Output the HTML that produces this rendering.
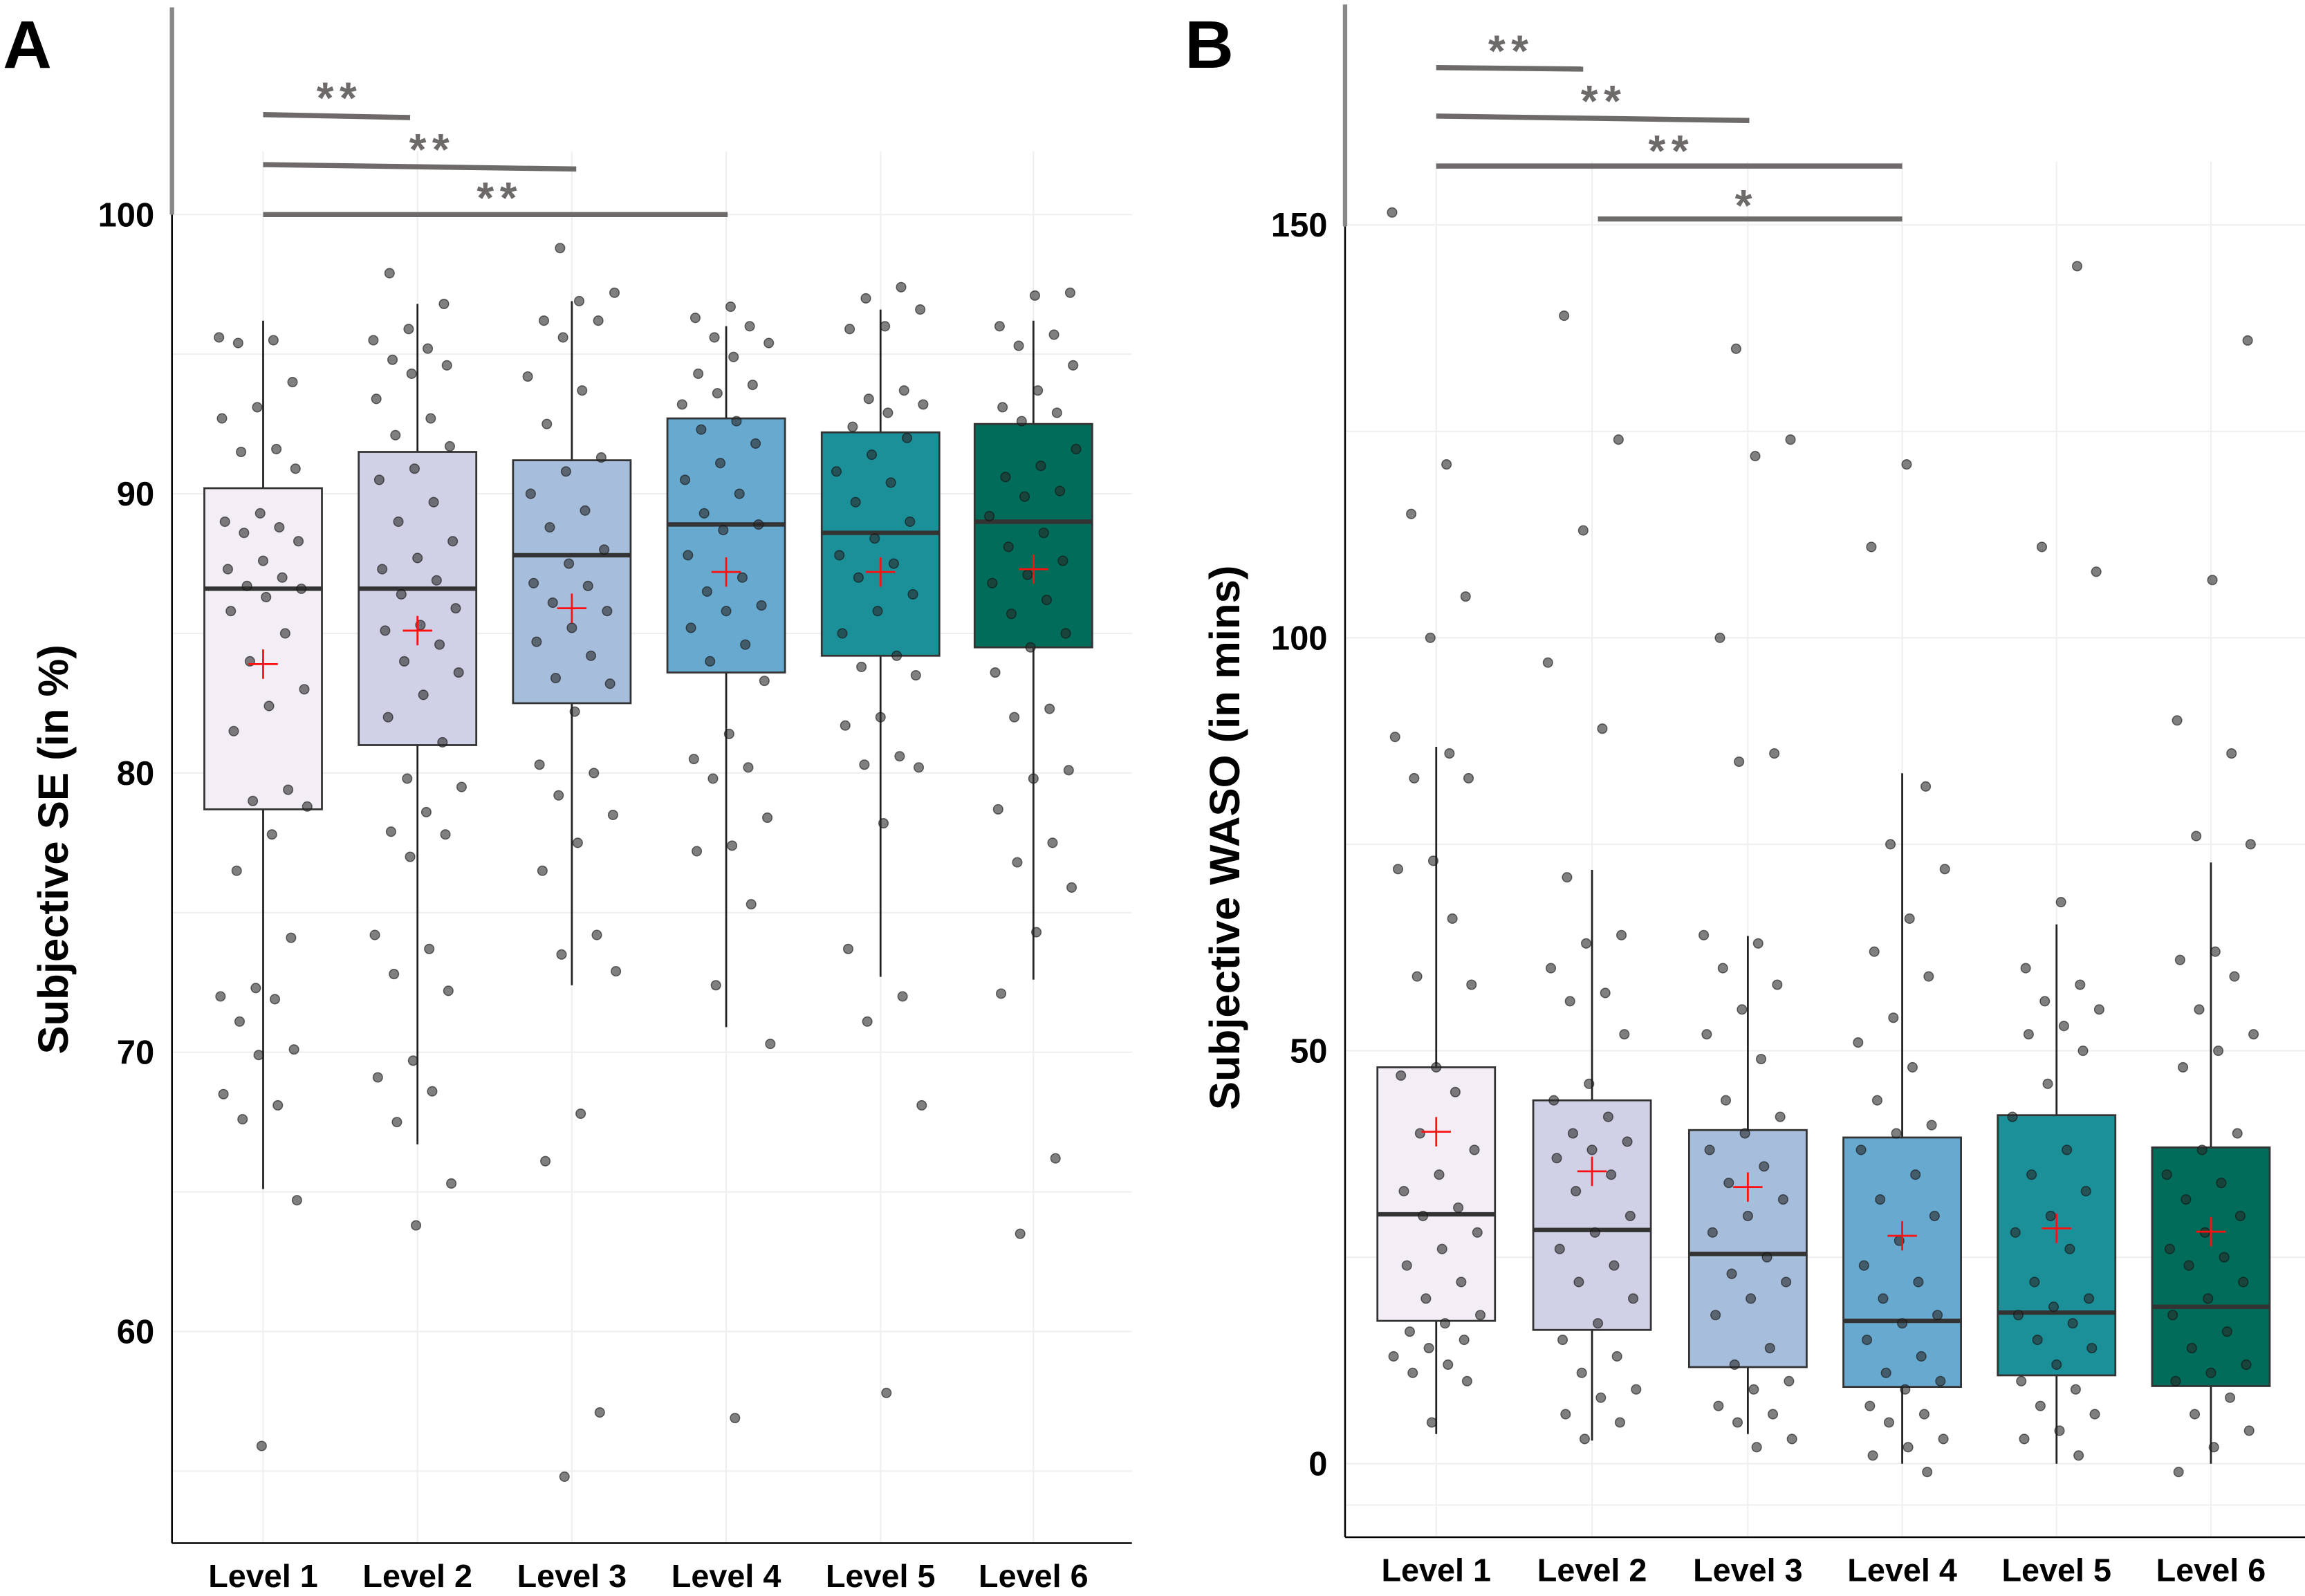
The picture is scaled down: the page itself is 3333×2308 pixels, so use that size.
<!DOCTYPE html>
<html><head><meta charset="utf-8">
<style>
html,body{margin:0;padding:0;background:#fff;}
svg{display:block;}
text{font-family:"Liberation Sans Narrow","Liberation Sans",sans-serif;font-weight:bold;}
</style></head>
<body>
<svg id="fig" xmlns="http://www.w3.org/2000/svg" width="3333" height="2308" viewBox="0 0 1568 1086" preserveAspectRatio="none">
<rect x="0" y="0" width="1568" height="1086" fill="#fff"/>
</svg>
<script>
const categories = ["Level 1","Level 2","Level 3","Level 4","Level 5","Level 6"];
const colors = ["#f3edf6","#d0d1e6","#a6bddb","#67a9cf","#1c9099","#016c59"];
// Panel A: Subjective SE
const seQ1 = [78.7,81.0,82.5,83.6,84.2,84.5];
const seMedian = [86.6,86.6,87.8,88.9,88.6,89.0];
const seQ3 = [90.2,91.5,91.2,92.7,92.2,92.5];
const seWhiskLo = [65.1,66.7,72.4,70.9,72.7,72.6];
const seWhiskHi = [96.2,96.8,96.9,96.0,96.6,96.2];
const seMean = [83.9,85.1,85.9,87.2,87.2,87.3];
const seTicks = [60,70,80,90,100];
const sePoints = [
[95.6,95.5,95.4,94.0,93.1,92.7,91.6,91.5,90.9,89.3,89.0,88.8,88.6,88.3,87.6,87.3,87.0,86.7,86.6,86.3,85.8,85.0,84.0,83.0,82.4,81.5,79.4,79.0,78.8,77.8,76.5,74.1,72.3,72.0,71.9,71.1,70.1,69.9,68.5,68.1,67.6,64.7,55.9],
[97.9,96.8,95.9,95.5,95.2,94.8,94.6,94.3,93.4,92.7,92.1,91.7,90.9,90.5,89.7,89.0,88.3,87.7,87.3,86.9,86.4,85.9,85.3,85.1,84.6,84.0,83.6,82.8,82.0,81.1,79.8,79.5,78.6,77.9,77.8,77.0,74.2,73.7,72.8,72.2,69.7,69.1,68.6,67.5,65.3,63.8],
[98.8,97.2,96.9,96.2,96.2,95.6,94.2,93.7,92.5,91.3,90.8,90.0,89.4,88.8,88.0,87.5,86.8,86.7,86.1,85.8,85.2,84.7,84.2,83.4,83.2,82.2,80.3,80.0,79.2,78.5,77.5,76.5,74.2,73.5,72.9,67.8,66.1,57.1,54.8],
[96.7,96.3,96.0,95.6,95.4,94.9,94.3,93.9,93.6,93.2,92.6,92.3,91.8,91.1,90.5,90.0,89.3,88.9,88.7,87.8,87.0,86.5,86.0,85.8,85.2,84.6,84.0,83.3,81.4,80.5,80.2,79.8,78.4,77.4,77.2,75.3,72.4,70.3,56.9],
[97.4,97.0,96.6,96.0,95.9,93.7,93.4,93.2,92.9,92.4,92.0,91.4,90.8,90.4,89.7,89.0,88.4,87.8,87.5,87.0,86.4,85.8,85.0,84.2,83.8,83.5,82.0,81.7,80.6,80.3,80.2,78.2,73.7,72.0,71.1,68.1,57.8],
[97.2,97.1,96.0,95.7,95.3,94.6,93.7,93.1,92.9,92.6,91.6,91.0,90.6,90.1,89.9,89.2,88.6,88.1,87.6,87.1,86.8,86.2,85.7,85.0,84.5,83.6,82.3,82.0,80.1,79.8,78.7,77.5,76.8,75.9,74.3,72.1,66.2,63.5]
];
// Panel B: Subjective WASO
const wQ1 = [17.3,16.2,11.7,9.3,10.7,9.4];
const wMedian = [30.2,28.3,25.4,17.3,18.3,19.0];
const wQ3 = [48.0,44.0,40.4,39.5,42.2,38.3];
const wWhiskLo = [3.6,2.8,3.6,0,0,0];
const wWhiskHi = [86.8,71.9,63.9,83.6,65.3,72.8];
const wMean = [40.2,35.4,33.5,27.6,28.5,28.1];
const wTicks = [0,50,100,150];
const wPoints = [
[151.5,121,115,105,100,88,86,83,83,73,72,66,59,58,48,47,45,40,38,35,33,31,30,28,26,24,22,20,18,17,16,15,14,13,12,11,10,5],
[139,124,113,97,89,71,64,63,60,57,56,52,46,44,42,40,39,38,37,35,33,30,28,26,24,22,20,17,15,13,11,9,8,6,5,3],
[135,124,122,100,86,85,64,63,60,58,55,52,49,44,42,40,38,36,34,32,30,28,25,23,22,20,18,14,12,10,9,7,6,5,3,2],
[121,111,82,75,72,66,62,59,54,51,48,44,41,40,38,35,32,30,27,24,22,20,18,17,15,13,11,10,9,7,6,5,3,2,1,-1],
[145,111,108,68,60,58,56,55,53,52,50,46,42,38,35,33,30,28,26,22,20,19,18,17,15,14,12,10,9,7,6,4,3,1],
[136,107,90,86,76,75,62,61,59,55,52,50,48,40,38,35,34,32,30,28,26,25,24,22,20,18,16,14,12,11,10,8,6,4,2,-1]
];

const NS="http://www.w3.org/2000/svg";
const svg=document.getElementById('fig');
function mk(tag,attrs,parent){const e=document.createElementNS(NS,tag);for(const k in attrs)e.setAttribute(k,attrs[k]);(parent||svg).appendChild(e);return e;}

function panel(o){
  const g=mk('g',{});
  
  
  const y=v=>o.y0+(o.v0-v)*o.scale;
  const x=i=>o.xs[i];
  o.grid.forEach(v=>{const l=mk('line',{x1:o.axX,x2:o.axR,y1:y(v),y2:y(v),stroke:'#efefef','stroke-width':1},g);
    });
  o.xs.forEach(xx=>{const l=mk('line',{x1:xx,x2:xx,y1:o.gridTop,y2:o.axB,stroke:'#efefef','stroke-width':1},g);
    });
  for(let i=0;i<6;i++){
    const w=mk('line',{x1:x(i),x2:x(i),y1:y(o.hi[i]),y2:y(o.lo[i]),stroke:'#222','stroke-width':1.3},g);
    
    const r=mk('rect',{x:x(i)-40,y:y(o.q3[i]),width:80,height:y(o.q1[i])-y(o.q3[i]),fill:colors[i],stroke:'#333','stroke-width':1.3},g);
    
    const m=mk('line',{x1:x(i)-40,x2:x(i)+40,y1:y(o.med[i]),y2:y(o.med[i]),stroke:'#333','stroke-width':3},g);
    
  }
  for(let i=0;i<6;i++){
    o.pts[i].forEach((v,j)=>{
      const jit=((j*37+i*11)%61)-30;
      const c=mk('circle',{cx:x(i)+jit,cy:y(v),r:3.2,fill:'#2a2a2a','fill-opacity':0.6,stroke:'#111','stroke-opacity':0.6,'stroke-width':0.7},g);
      
    });
  }
  for(let i=0;i<6;i++){
    const mg=mk('g',{stroke:'#ff1010','stroke-width':1.3},g);
    
    mk('line',{x1:x(i)-10,x2:x(i)+10,y1:y(o.mean[i]),y2:y(o.mean[i])},mg);
    mk('line',{x1:x(i),x2:x(i),y1:y(o.mean[i])-10,y2:y(o.mean[i])+10},mg);
  }
  const ya=mk('line',{x1:o.axX,x2:o.axX,y1:o.axTopBlack,y2:o.axB,stroke:'#000','stroke-width':1.2},g);
  
  const yg=mk('line',{x1:o.axX,x2:o.axX,y1:o.grayTop,y2:o.axTopBlack,stroke:'#888','stroke-width':3},g);
  
  const xa=mk('line',{x1:o.axX,x2:o.axR,y1:o.axB,y2:o.axB,stroke:'#000','stroke-width':1.2},g);
  
  o.ticks.forEach(v=>{const t=mk('text',{x:o.axX-12,y:y(v)+8,'text-anchor':'end','font-size':23,fill:'#000'},g);t.textContent=v;
    });
  categories.forEach((c,i)=>{const t=mk('text',{x:x(i),y:o.axB+30,'text-anchor':'middle','font-size':22,fill:'#000'},g);t.textContent=c;
    });
  const tt=mk('text',{x:0,y:0,'text-anchor':'middle','font-size':29,fill:'#000',transform:`translate(${o.titleX},${o.titleY}) rotate(-90)`},g);
  tt.textContent=o.title;
  const pl=mk('text',{x:o.letterX,y:46,'font-size':46,fill:'#000'},g);pl.textContent=o.letter;
  
  o.sig.forEach(s=>{
    const l=mk('line',{x1:s[0],x2:s[1],y1:s[2],y2:s[3],stroke:'#6e6a6a','stroke-width':3.5},g);
    
    const t=mk('text',{x:s[4],y:s[5],'text-anchor':'middle','font-size':30,fill:'#6e6a6a','font-weight':'normal','letter-spacing':4},g);
    t.textContent=s[6];
  });
}

panel({name:'panel-a-se',xs:[179,284,389,494,599,703],y0:146,v0:100,scale:19,
  q1:seQ1,med:seMedian,q3:seQ3,lo:seWhiskLo,hi:seWhiskHi,mean:seMean,pts:sePoints,ticks:seTicks,
  grid:[55,60,65,70,75,80,85,90,95,100],gridTop:103,axX:117,axR:770,axB:1050,axTopBlack:146,grayTop:5,
  title:'Subjective SE (in %)',titleX:46,titleY:578,letter:'A',letterX:2,
  sig:[[179,279,78,80,231,77,'**'],[179,392,112,115,294,112,'**'],[179,495,146,146,340,145,'**']]});

panel({name:'panel-b-waso',xs:[977,1083,1189,1294,1399,1504],y0:996,v0:0,scale:5.62,
  q1:wQ1,med:wMedian,q3:wQ3,lo:wWhiskLo,hi:wWhiskHi,mean:wMean,pts:wPoints,ticks:wTicks,
  grid:[-5,0,25,50,75,100,125,150],gridTop:110,axX:915,axR:1568,axB:1046,axTopBlack:154,grayTop:3,
  title:'Subjective WASO (in mins)',titleX:843,titleY:570,letter:'B',letterX:806,
  sig:[[977,1077,46,47,1028,45,'**'],[977,1190,79,82,1091,79,'**'],[977,1294,113,113,1137,113,'**'],[1087,1294,149,149,1188,150,'*']]});
</script>
</body></html>
